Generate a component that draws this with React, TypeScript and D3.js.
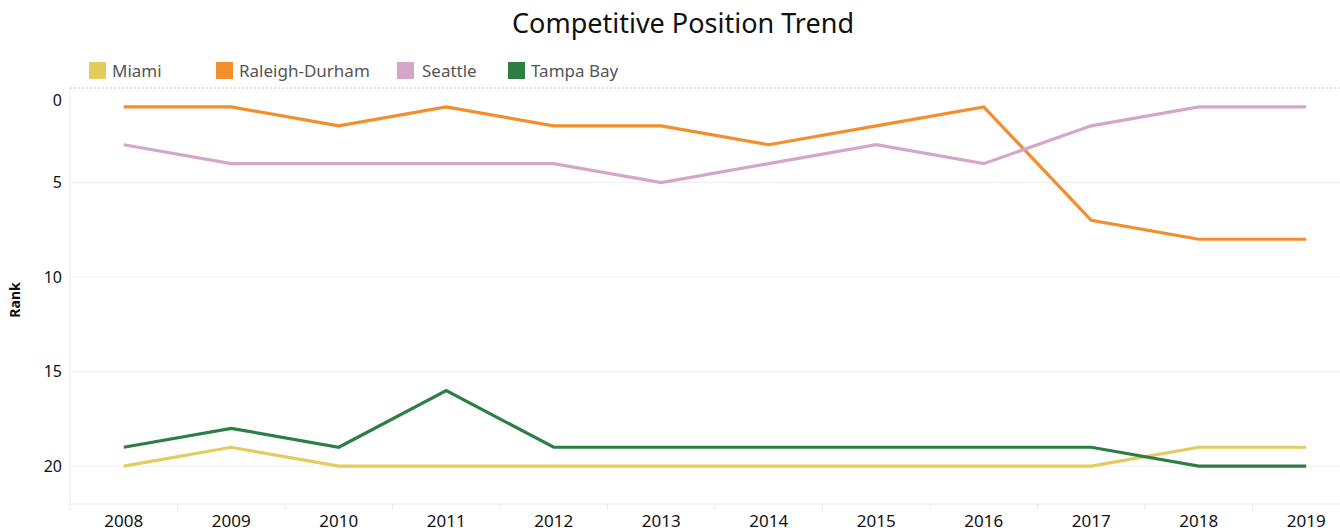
import React from "react";
import * as d3 from "d3";

const width = 1340;
const height = 531;

const years = [2008, 2009, 2010, 2011, 2012, 2013, 2014, 2015, 2016, 2017, 2018, 2019];
const cities = ["Miami", "Raleigh-Durham", "Seattle", "Tampa Bay"];
const cityColors = ["#E3CB5E", "#F28E2B", "#D4A6C8", "#2E7D45"];

const miami = [20, 19, 20, 20, 20, 20, 20, 20, 20, 20, 19, 19];
const raleighDurham = [1, 1, 2, 1, 2, 2, 3, 2, 1, 7, 8, 8];
const seattle = [3, 4, 4, 4, 4, 5, 4, 3, 4, 2, 1, 1];
const tampaBay = [19, 18, 19, 16, 19, 19, 19, 19, 19, 19, 20, 20];
const rankTicks = [0, 5, 10, 15, 20];

const seriesValues = [miami, raleighDurham, seattle, tampaBay];

const pane = { left: 70, top: 88, bottom: 504, right: 1360 };

export default function App() {
  const x = d3
    .scaleBand<number>()
    .domain(years)
    .range([pane.left, pane.right]);

  const y = d3.scaleLinear().domain([0, 22]).range([pane.top, pane.bottom]);

  const line = d3
    .line<number>()
    .x((_, i) => x(years[i])! + x.bandwidth() / 2)
    .y((d) => y(d));

  const font = "'Noto Sans', 'Open Sans', sans-serif";

  // legend item offsets
  const legendX = [89, 216, 397, 508];

  return (
    <svg
      width={width}
      height={height}
      style={{ position: "absolute", left: 0, top: 0, background: "#fff" }}
    >
      <text
        x={683}
        y={33}
        textAnchor="middle"
        style={{ fontFamily: font, fontSize: "27px", fill: "#111" }}
      >
        Competitive Position Trend
      </text>

      {cities.map((c, i) => (
        <g key={c} transform={`translate(${legendX[i]},62)`}>
          <rect width={17} height={17} fill={cityColors[i]} />
          <text
            x={i === 2 ? 25 : 23}
            y={15}
            style={{ fontFamily: font, fontSize: "17px", fill: "#555" }}
          >
            {c}
          </text>
        </g>
      ))}

      {/* grid */}
      {rankTicks.slice(1).map((t) => (
        <line
          key={t}
          x1={pane.left}
          x2={width}
          y1={y(t)}
          y2={y(t)}
          stroke="#efefef"
          strokeWidth={1}
        />
      ))}
      <line
        x1={pane.left}
        x2={width}
        y1={pane.top}
        y2={pane.top}
        stroke="#c8c8c8"
        strokeDasharray="2,2"
        strokeWidth={1}
      />
      <line x1={pane.left} x2={pane.left} y1={pane.top} y2={pane.bottom + 6} stroke="#eaeaea" />
      <line x1={pane.left} x2={width} y1={pane.bottom} y2={pane.bottom} stroke="#eaeaea" />
      {years.slice(1).map((yr) => (
        <line
          key={yr}
          x1={x(yr)!}
          x2={x(yr)!}
          y1={pane.bottom}
          y2={pane.bottom + 6}
          stroke="#eaeaea"
        />
      ))}

      {/* y axis labels */}
      {rankTicks.map((t) => (
        <text
          key={t}
          x={62}
          y={Math.max(y(t), 100)}
          dy="0.35em"
          textAnchor="end"
          style={{ fontFamily: font, fontSize: "16px", fill: "#111" }}
        >
          {t}
        </text>
      ))}
      <text
        transform="translate(20,300) rotate(-90)"
        textAnchor="middle"
        style={{ fontFamily: font, fontSize: "14px", fontWeight: 700, fill: "#111" }}
      >
        Rank
      </text>

      {/* x axis labels */}
      {years.map((yr) => (
        <text
          key={yr}
          x={x(yr)! + x.bandwidth() / 2}
          y={527}
          textAnchor="middle"
          style={{ fontFamily: font, fontSize: "17px", fill: "#111" }}
        >
          {yr}
        </text>
      ))}

      {/* lines */}
      {seriesValues.map((vals, i) => (
        <path
          key={cities[i]}
          d={line(vals)!}
          fill="none"
          stroke={cityColors[i]}
          strokeWidth={3.2}
          strokeLinejoin="miter"
        />
      ))}
    </svg>
  );
}
